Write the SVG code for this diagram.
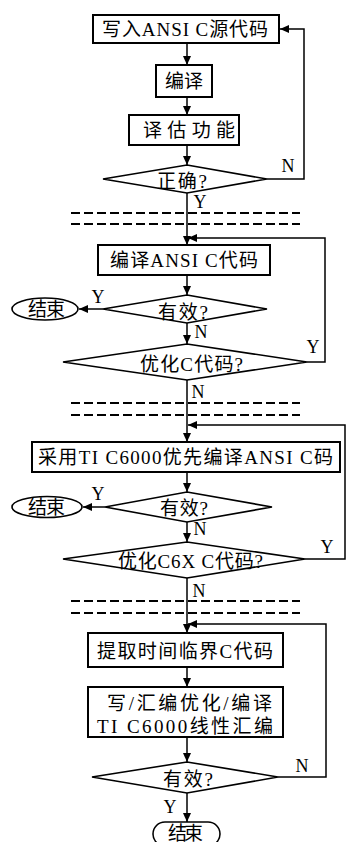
<svg xmlns="http://www.w3.org/2000/svg" width="347" height="842" viewBox="0 0 347 842">
<style>
.box{fill:#fff;stroke:#000;stroke-width:2}
.dia{fill:#fff;stroke:#000;stroke-width:1.6}
.ln{fill:none;stroke:#000;stroke-width:1.5}
.ar{fill:none;stroke:#000;stroke-width:1.5;marker-end:url(#ah)}
.dash{fill:none;stroke:#000;stroke-width:1.8;stroke-dasharray:9 4}
.t{font-family:"Liberation Serif","Noto Sans CJK SC",serif;font-size:19px;fill:#000;dominant-baseline:central}
.lb{font-family:"Liberation Serif",serif;font-size:18px;fill:#000;text-anchor:middle}
</style>
<defs>
<marker id="ah" markerUnits="userSpaceOnUse" markerWidth="10" markerHeight="8" refX="9" refY="4" orient="auto">
<path d="M0,0 L9,4 L0,8 Z" fill="#000"/>
</marker>
</defs>
<g id="connectors">
<line class="ar" x1="187" y1="43" x2="187" y2="65"/>
<line class="ar" x1="187" y1="97" x2="187" y2="115"/>
<line class="ar" x1="187" y1="145" x2="187" y2="165"/>
<polyline class="ar" points="267,179 304,179 304,29 280,29"/>
<line class="ar" x1="187" y1="193" x2="187" y2="245"/>
<polyline class="ar" points="307,362 325,362 325,238 188,238"/>
<line class="ar" x1="187" y1="275" x2="187" y2="295"/>
<line class="ar" x1="103" y1="309" x2="79" y2="309"/>
<line class="ar" x1="187" y1="323" x2="187" y2="344"/>
<line class="ar" x1="187" y1="380" x2="187" y2="442"/>
<polyline class="ar" points="305,559 345,559 345,425 188,425"/>
<line class="ar" x1="187" y1="472" x2="187" y2="492"/>
<line class="ar" x1="105" y1="507" x2="83" y2="507"/>
<line class="ar" x1="187" y1="522" x2="187" y2="542"/>
<line class="ar" x1="187" y1="578" x2="187" y2="633"/>
<polyline class="ar" points="278,777 326,777 326,624 188,624"/>
<line class="ar" x1="187" y1="667" x2="187" y2="687"/>
<line class="ar" x1="187" y1="737" x2="187" y2="762"/>
<line class="ar" x1="187" y1="793" x2="187" y2="822"/>
<line class="dash" x1="71" y1="213" x2="300" y2="213"/>
<line class="dash" x1="71" y1="224" x2="300" y2="224"/>
<line class="dash" x1="71" y1="403" x2="300" y2="403"/>
<line class="dash" x1="71" y1="415" x2="300" y2="415"/>
<line class="dash" x1="71" y1="601" x2="300" y2="601"/>
<line class="dash" x1="71" y1="613" x2="300" y2="613"/>
<text class="lb" x="288" y="172">N</text>
<text class="lb" x="200" y="208">Y</text>
<text class="lb" x="98" y="303">Y</text>
<text class="lb" x="201" y="338">N</text>
<text class="lb" x="313" y="353">Y</text>
<text class="lb" x="198" y="398">N</text>
<text class="lb" x="98" y="500">Y</text>
<text class="lb" x="200" y="535">N</text>
<text class="lb" x="327" y="553">Y</text>
<text class="lb" x="199" y="597">N</text>
<text class="lb" x="302" y="772">N</text>
<text class="lb" x="170" y="813">Y</text>
</g>
<g id="n1"><rect class="box" x="93" y="15" width="186" height="28"/><text class="t" x="102" y="29" textLength="166" lengthAdjust="spacing">写入ANSI C源代码</text></g>
<g id="n2"><rect class="box" x="156" y="65" width="56" height="32"/><text class="t" x="165" y="81" textLength="38" lengthAdjust="spacing">编译</text></g>
<g id="n3"><rect class="box" x="129" y="115" width="110" height="30"/><text class="t" x="143" y="130" textLength="92" lengthAdjust="spacing">译估功能</text></g>
<g id="d1"><polygon class="dia" points="187,165 267,179 187,193 103,179"/><text class="t" x="157" y="181" textLength="50" lengthAdjust="spacing">正确?</text></g>
<g id="n4"><rect class="box" x="98" y="245" width="172" height="30"/><text class="t" x="110" y="260" textLength="148" lengthAdjust="spacing">编译ANSI C代码</text></g>
<g id="d2"><polygon class="dia" points="187,295 267,309 187,323 103,309"/><text class="t" x="158" y="312" textLength="50" lengthAdjust="spacing">有效?</text></g>
<g id="e1"><ellipse class="box" cx="45" cy="309" rx="33" ry="11" style="stroke-width:1.6"/><text class="t" x="28" y="309" textLength="37" lengthAdjust="spacing">结束</text></g>
<g id="d3"><polygon class="dia" points="187,344 307,362 187,380 63,362"/><text class="t" x="140" y="364" textLength="103" lengthAdjust="spacing">优化C代码?</text></g>
<g id="n5"><rect class="box" x="32" y="442" width="308" height="30"/><text class="t" x="38" y="457" textLength="295" lengthAdjust="spacing">采用TI C6000优先编译ANSI C码</text></g>
<g id="d4"><polygon class="dia" points="187,492 272,507 187,522 105,507"/><text class="t" x="160" y="508" textLength="48" lengthAdjust="spacing">有效?</text></g>
<g id="e2"><ellipse class="box" cx="47" cy="507" rx="35" ry="10.5" style="stroke-width:1.6"/><text class="t" x="28" y="507" textLength="37" lengthAdjust="spacing">结束</text></g>
<g id="d5"><polygon class="dia" points="187,542 305,559 187,578 63,559"/><text class="t" x="118" y="561" textLength="145" lengthAdjust="spacing">优化C6X C代码?</text></g>
<g id="n6"><rect class="box" x="88" y="633" width="195" height="34"/><text class="t" x="97" y="651" textLength="176" lengthAdjust="spacing">提取时间临界C代码</text></g>
<g id="n7"><rect class="box" x="88" y="687" width="195" height="50"/><text class="t" x="107" y="703" textLength="165" lengthAdjust="spacing">写/汇编优化/编译</text><text class="t" x="97" y="726" textLength="176" lengthAdjust="spacing">TI C6000线性汇编</text></g>
<g id="d6"><polygon class="dia" points="187,762 278,777 187,793 92,777"/><text class="t" x="163" y="779" textLength="50" lengthAdjust="spacing">有效?</text></g>
<g id="e3"><rect class="box" x="153" y="822" width="67" height="24" rx="12" style="stroke-width:1.6"/><text class="t" x="168" y="833" textLength="35" lengthAdjust="spacing">结束</text></g>
</svg>
